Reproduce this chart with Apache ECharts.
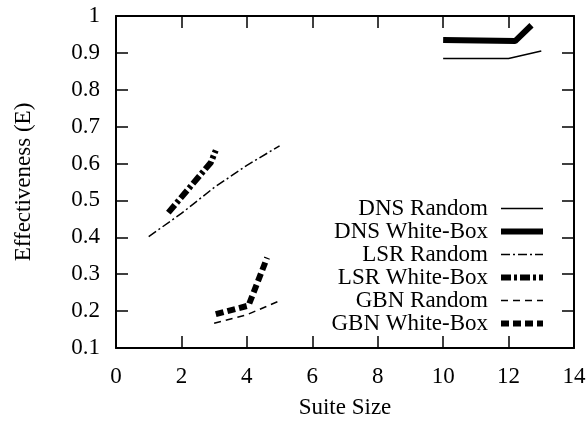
<!DOCTYPE html>
<html>
<head>
<meta charset="utf-8">
<script src="https://cdn.jsdelivr.net/npm/echarts@6/dist/echarts.min.js"></script>
<style>
  html, body { margin: 0; padding: 0; background: #fff; }
  #chart { width: 587px; height: 421px; }
</style>
</head>
<body>
<div id="chart"></div>
<script>
// values: [suite size, effectiveness]
var seriesNames = ['DNS Random', 'DNS White-Box', 'LSR Random', 'LSR White-Box', 'GBN Random', 'GBN White-Box'];
var dnsRandom = [[10, 0.885], [12, 0.885], [13, 0.905]];
var dnsWhiteBox = [[10, 0.935], [12.2, 0.932], [12.7, 0.975]];
var lsrRandom = [[1, 0.402], [2, 0.465], [3, 0.535], [4, 0.595], [5, 0.648]];
var lsrWhiteBox = [[1.6, 0.467], [2.9, 0.603], [3.05, 0.636]];
var gbnRandom = [[3, 0.167], [4, 0.19], [5, 0.228]];
var gbnWhiteBox = [[3.05, 0.192], [4.05, 0.215], [4.62, 0.345]];
var xTicks = { min: 0, max: 14, interval: 2 };
var yTicks = { min: 0.1, max: 1, interval: 0.1 };

// line looks per series: width and dash
var styles = [
    { width: 1.5, type: 'solid' },
    { width: 6, type: 'solid' },
    { width: 1.5, type: [9, 3, 2, 3] },
    { width: 6, type: [10, 3, 3, 3] },
    { width: 1.5, type: [7, 5] },
    { width: 6, type: [8, 4] }
];
var allData = [dnsRandom, dnsWhiteBox, lsrRandom, lsrWhiteBox, gbnRandom, gbnWhiteBox];

var font = 'Liberation Serif';
var fs = 23;
var myChart = echarts.init(document.getElementById('chart'));

function axisBase(t) {
    return {
        type: 'value',
        min: t.min, max: t.max, interval: t.interval,
        splitLine: { show: false },
        axisLine: { show: true, onZero: false, lineStyle: { color: '#000', width: 2 } },
        axisTick: { show: true, inside: true, length: 12, lineStyle: { color: '#000', width: 1.5 } }
    };
}

var series = seriesNames.map(function (name, i) {
    return {
        name: name,
        type: 'line',
        data: allData[i],
        symbol: 'none',
        showSymbol: false,
        lineStyle: { color: '#000', width: styles[i].width, type: styles[i].type, cap: 'butt' },
        itemStyle: { color: '#000' }
    };
});

var legendData = seriesNames.map(function (name, i) {
    return {
        name: name,
        itemStyle: { color: 'rgba(0,0,0,0)', borderWidth: 0, opacity: 0 },
        lineStyle: { color: '#000', width: styles[i].width, type: styles[i].type, cap: 'butt' }
    };
});

var option = {
    backgroundColor: '#fff',
    animation: false,
    grid: { left: 116, right: 13, top: 16, bottom: 73, outerBoundsMode: 'none', containLabel: false },
    legend: {
        orient: 'vertical',
        right: 36,
        top: 192,
        align: 'right',
        itemWidth: 42,
        itemHeight: 14,
        itemGap: 0,
        textStyle: { fontFamily: font, fontSize: fs, color: '#000', padding: [0, 8, 0, 0] },
        data: legendData
    },
    xAxis: [
        Object.assign(axisBase(xTicks), {
            position: 'bottom',
            name: 'Suite Size',
            nameLocation: 'middle',
            nameGap: 48,
            nameTextStyle: { fontFamily: font, fontSize: fs, color: '#000' },
            axisLabel: { margin: 17, fontFamily: font, fontSize: fs, color: '#000' }
        }),
        Object.assign(axisBase(xTicks), { position: 'top', axisLabel: { show: false } })
    ],
    yAxis: [
        Object.assign(axisBase(yTicks), {
            position: 'left',
            name: 'Effectiveness (E)',
            nameLocation: 'middle',
            nameGap: 81,
            nameTextStyle: { fontFamily: font, fontSize: fs, color: '#000' },
            axisLabel: { margin: 16, fontFamily: font, fontSize: fs, color: '#000' }
        }),
        Object.assign(axisBase(yTicks), { position: 'right', axisLabel: { show: false } })
    ],
    series: series
};

myChart.setOption(option);
</script>
</body>
</html>
